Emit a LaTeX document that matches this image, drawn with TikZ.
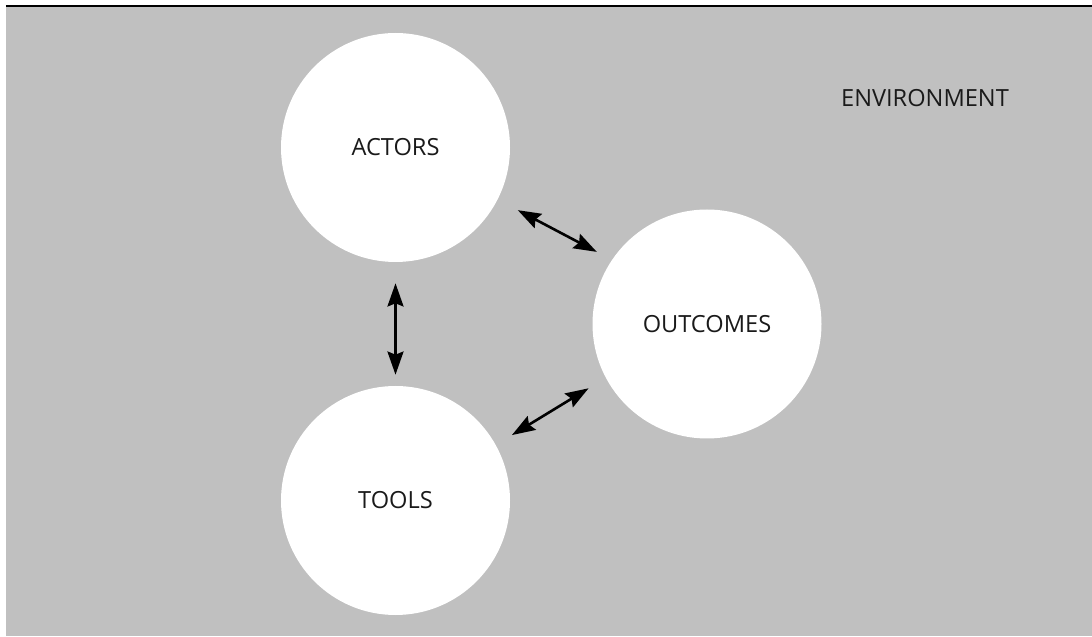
\documentclass[tikz,border=0pt]{standalone}
\usepackage{fontspec}
\setmainfont{Open Sans}
\usepackage{xcolor}
\usepackage{tikz}
\usetikzlibrary{arrows.meta}

\definecolor{envgray}{HTML}{C0C0C0}
\definecolor{textblack}{HTML}{1A1A1A}

\begin{document}
\begin{tikzpicture}[
  blob/.style={shape=circle,fill=white,draw=none,inner sep=0pt,minimum size=5.725cm,
    font=\fontsize{16.8}{18}\selectfont,text=textblack},
  label/.style={inner sep=0pt,font=\fontsize{16.8}{18}\selectfont,text=textblack},
  link/.style={{Stealth[length=0.58cm,width=0.4cm,inset=0.08cm]}-{Stealth[length=0.58cm,width=0.4cm,inset=0.08cm]},
    line width=0.065cm,black}
]

\useasboundingbox (0,0) rectangle (27.3,15.9);

%% environment

\fill[envgray] (0.15,0) rectangle (27.3,15.75);
\draw[line width=0.04cm,black] (0.15,15.75) -- (27.3,15.75);
\node[label] (env) at (23.125,13.45) {ENVIRONMENT};

%% nodes

\node[blob] (actors) at (9.8875,12.2125) {ACTORS};
\node[blob] (outcomes) at (17.675,7.8) {OUTCOMES};
\node[blob] (tools) at (9.8875,3.3875) {TOOLS};

%% arrows

\draw[link,shorten <=0.565cm,shorten >=0.425cm] (actors.-27.6) -- (outcomes.146.8);
\draw[link,shorten <=0.525cm,shorten >=0.275cm] (actors.-90) -- (tools.90);
\draw[link,shorten <=0.47cm,shorten >=0.5cm] (tools.29) -- (outcomes.208.8);

\end{tikzpicture}
\end{document}
